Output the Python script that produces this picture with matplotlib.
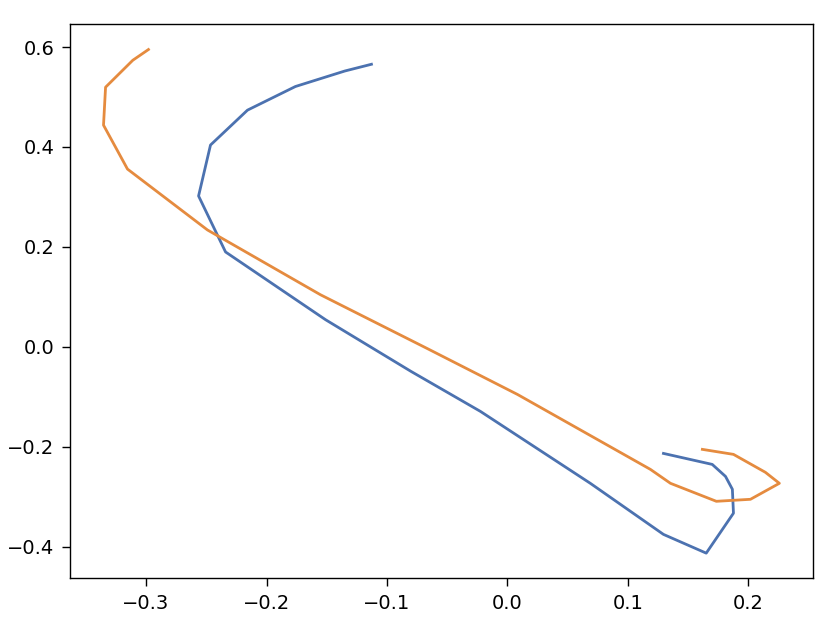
import matplotlib
matplotlib.use("Agg")
import matplotlib.pyplot as plt

blue_x = [-0.1129, -0.135, -0.176, -0.2158, -0.2465, -0.2564, -0.234, -0.151, -0.080,
          -0.0224, 0.0689, 0.1295, 0.165, 0.1876, 0.1867, 0.181, 0.170, 0.1295]
blue_y = [0.5655, 0.552, 0.521, 0.4737, 0.4039, 0.302, 0.190, 0.0545, -0.049,
          -0.129, -0.273, -0.375, -0.4125, -0.3326, -0.2847, -0.259, -0.235, -0.213]

orange_x = [-0.298, -0.311, -0.3336, -0.3353, -0.3154, -0.249, -0.1552, -0.0664, 0.0083,
            0.1187, 0.1353, 0.1734, 0.2017, 0.2257, 0.2141, 0.1876, 0.1618]
orange_y = [0.595, 0.5735, 0.5196, 0.4437, 0.3558, 0.234, 0.1044, -0.0034, -0.095,
            -0.245, -0.2728, -0.3088, -0.3048, -0.2728, -0.2508, -0.2149, -0.2049]

fig = plt.figure(figsize=(8.34, 6.24), dpi=100)
ax = fig.add_axes([0.0836, 0.0732, 0.975 - 0.0836, 0.961 - 0.0732])
ax.plot(blue_x, blue_y, color="#4c72b0", linewidth=2.0)
ax.plot(orange_x, orange_y, color="#e58b3f", linewidth=2.0)
ax.tick_params(labelsize=14, length=5.5, width=1.0, pad=5.5)
for s in ax.spines.values():
    s.set_linewidth(1.0)
fig.savefig("out.png", dpi=100)
